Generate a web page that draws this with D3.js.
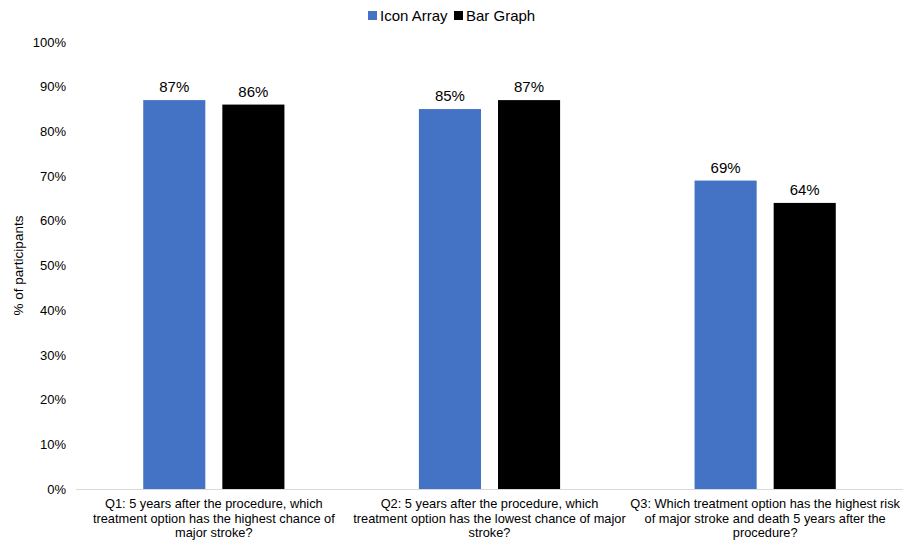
<!DOCTYPE html>
<html><head><meta charset="utf-8">
<script src="https://cdn.jsdelivr.net/npm/d3@7"></script>
<style>body{margin:0;background:#fff;font-family:"Liberation Sans",Arial,sans-serif;}</style>
</head><body><svg id="c" width="909" height="544"></svg>
<script>
const categories = [
  ["Q1: 5 years after the procedure, which","treatment option has the highest chance of","major stroke?"],
  ["Q2: 5 years after the procedure, which","treatment option has the lowest chance of major","stroke?"],
  ["Q3: Which treatment option has the highest risk","of major stroke and death 5 years after the","procedure?"]
];
const seriesNames = ["Icon Array","Bar Graph"];
const iconArray = [87,85,69];
const barGraph = [86,87,64];
const yTicks = [0,10,20,30,40,50,60,70,80,90,100];
const colors = ["#4472C4","#000000"];

const svg = d3.select("#c");
const m = {l:76,r:6,t:42,b:55};
const W = 909, H = 544;
const x0 = d3.scaleBand().domain(d3.range(categories.length)).range([m.l, W-m.r]).paddingInner(0).paddingOuter(0);
const y = d3.scaleLinear().domain([0,100]).range([H-m.b, m.t]);
const inner = d3.scaleBand().domain([0,1]).range([0, x0.bandwidth()]).paddingInner(0.215).paddingOuter(0.85);

const data = categories.map((c,i)=>({i, vals:[iconArray[i], barGraph[i]]}));

// y axis labels
const ya = svg.append("g").attr("transform",`translate(${m.l},0)`)
  .call(d3.axisLeft(y).tickValues(yTicks).tickFormat(d=>d+"%").tickSize(0).tickPadding(10));
ya.select(".domain").remove();
ya.selectAll("text").attr("font-size",13).attr("fill","#000").attr("font-family","Liberation Sans, Arial, sans-serif");

// bars
const g = svg.append("g");
data.forEach(d=>{
  d.vals.forEach((v,s)=>{
    const bx = x0(d.i)+inner(s);
    g.append("rect").attr("x",bx).attr("y",y(v)).attr("width",inner.bandwidth()).attr("height",y(0)-y(v)).attr("fill",colors[s]);
    g.append("text").attr("x",bx+inner.bandwidth()/2).attr("y",y(v)-8).attr("text-anchor","middle")
      .attr("font-size",15).attr("fill","#000").text(v+"%");
  });
});

// x axis line
svg.append("line").attr("x1",m.l).attr("x2",W-m.r).attr("y1",y(0)+0.5).attr("y2",y(0)+0.5).attr("stroke","#d9d9d9").attr("stroke-width",1.2);

// category labels
categories.forEach((lines,i)=>{
  const t = svg.append("text").attr("text-anchor","middle").attr("font-size",12.8).attr("fill","#000");
  lines.forEach((ln,j)=>{
    t.append("tspan").attr("x",x0(i)+x0.bandwidth()/2).attr("y",508+j*14.5).text(ln);
  });
});

// y axis title
svg.append("text").attr("transform",`translate(23,${(m.t+H-m.b)/2}) rotate(-90)`).attr("text-anchor","middle")
  .attr("font-size",13.5).attr("fill","#000").text("% of participants");

// legend
const leg = svg.append("g");
const legX = [368, 454];
seriesNames.forEach((n,s)=>{
  leg.append("rect").attr("x",legX[s]).attr("y",11).attr("width",9).attr("height",9).attr("fill",colors[s]);
  leg.append("text").attr("x",legX[s]+12).attr("y",20.5).attr("font-size",15).attr("fill","#000").text(n);
});
</script></body></html>
